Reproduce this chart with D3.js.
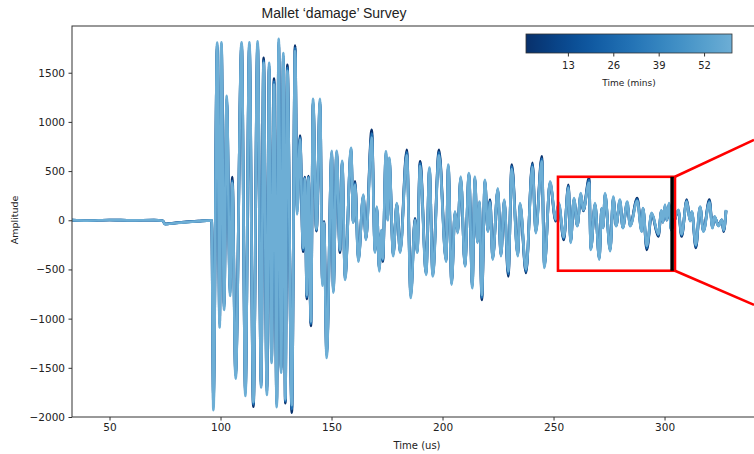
<!DOCTYPE html>
<html>
<head>
<meta charset="utf-8">
<script src="https://cdn.jsdelivr.net/npm/d3@7"></script>
<style>
  body { margin: 0; background: #fff; }
  svg { display: block; }
  text { font-family: "DejaVu Sans", sans-serif; fill: #222; }
</style>
</head>
<body>
<svg id="chart" width="754" height="454"></svg>
<script>
// Sample times (us) shared by every trace
const timeUs = [
  33.1, 40, 50, 60, 70, 74, 75, 76, 80, 85, 90, 96,
  96.8, 98.5, 99.6, 100.4, 101.6, 102.8, 104.3, 105.3, 106.8, 109.5, 111.2, 113.0,
  114.8, 116.7, 118.3, 119.4, 120.9, 121.9, 123.0, 124.1, 125.3, 126.2, 127.3, 128.3,
  129.2, 130.1, 132.1, 133.6, 134.5, 135.8, 137.2, 138.0, 138.9, 139.6, 140.7, 141.7,
  143.2, 144.8, 145.9, 146.6, 147.8, 150.1, 150.8, 152.3, 153.8, 154.8, 156.1, 158.8,
  159.8, 160.6, 162.1, 164.3, 165.5, 168.1, 169.6, 170.4, 171.5, 172.4, 173.1, 174.5,
  175.3, 176.0, 177.8, 179.4, 180.9, 183.9, 185.7, 187.6, 188.6, 189.9, 192.6, 194.1,
  195.6, 198.4, 201.6, 202.6, 204.1, 205.6, 206.8, 208.2, 210.1, 211.9, 213.4, 214.6,
  215.7, 216.6, 217.7, 219.1, 220.4, 221.4, 222.6, 224.9, 226.3, 227.8, 229.6, 231.2,
  233.9, 234.9, 237.6, 240.5, 242.0, 244.7, 245.9, 248.4, 251.0, 252.3, 254.6, 256.7,
  257.7, 259.2, 260.7, 262.3, 263.4, 266.0, 266.8, 268.7, 270.6, 271.7, 272.3, 273.2,
  275.5, 276.9, 278.2, 279.9, 281.2, 283.2, 284.5, 287.7, 289.7, 290.3, 292.0, 294.2,
  297.2, 298.6, 299.3, 300.2, 301.0, 302.0, 303.0, 306.2, 307.7, 310.0, 311.5, 312.3,
  314.1, 316.0, 317.5, 320.2, 321.6, 322.5, 324.3, 325.8, 326.6, 327.7
];

// Amplitude of the survey taken at 1 min
const ampEarly = [
  2, -3, 3, -2, 2, -5, -38, -36, -27, -17, -9, -1,
  -1800, 1750, -1000, 1760, -850, 1200, -700, 440, -1550, 1760, -1720, 1750,
  -1895, 1760, -1650, 1650, -1700, 1540, -1400, 1440, -1840, 1780, -1500, 1640,
  -1860, 1580, -1955, 1775, 120, 860, -320, 440, -800, 450, -1075, 1180,
  -110, 1190, -620, -10, -1340, 670, -700, 670, -330, 575, -570, 700,
  -15, 395, -390, 240, -180, 920, -310, 120, -490, -120, -420, 660,
  20, 600, -340, 160, -310, 715, -750, 20, -310, 600, -525, 505,
  -540, 715, -400, 535, -620, 70, -110, 420, -450, 460, -650, 420,
  -210, 170, -810, 390, -100, 210, -380, 305, -345, 190, -570, 565,
  -345, 155, -535, 585, -110, 650, -455, 375, -10, 160, -200, 360,
  -210, 205, -50, 255, 95, 430, -280, 155, -380, 115, -70, 255,
  -295, 220, -50, 190, -70, 170, -50, 225, -100, 115, -300, 65,
  -165, 90, -20, 140, 0, 155, -90, 95, -165, 210, 0, 80,
  -280, 130, -105, 210, -70, 30, -50, 5, -115, 95
];

// Amplitude of the survey taken at 30 mins
const ampMid = [
  2, -3, 3, -2, 2, -5, -39, -37, -27, -17, -9, -2,
  -1850, 1780, -1050, 1790, -880, 1230, -740, 400, -1580, 1790, -1750, 1780,
  -1870, 1790, -1680, 1620, -1740, 1570, -1420, 1410, -1870, 1810, -1520, 1670,
  -1840, 1550, -1920, 1750, 80, 840, -300, 430, -780, 440, -1050, 1200,
  -100, 1210, -640, -20, -1370, 690, -720, 690, -310, 590, -590, 720,
  -20, 375, -410, 250, -190, 880, -320, 130, -500, -110, -405, 680,
  10, 620, -350, 165, -320, 690, -770, 10, -320, 575, -540, 520,
  -555, 690, -410, 550, -640, 80, -120, 430, -460, 470, -670, 430,
  -220, 180, -785, 400, -110, 195, -390, 315, -355, 200, -545, 545,
  -355, 165, -520, 565, -120, 625, -470, 385, 0, 170, -185, 345,
  -220, 215, -55, 265, 100, 405, -290, 165, -390, 120, -75, 265,
  -305, 230, -55, 200, -75, 180, -55, 210, -110, 120, -280, 70,
  -150, 95, -20, 150, 0, 165, -95, 100, -150, 200, -5, 85,
  -265, 135, -110, 195, -75, 35, -55, 5, -105, 100
];

// Amplitude of the survey taken at 60 mins
const ampLate = [
  2, -3, 3, -2, 2, -5, -40, -38, -28, -18, -10, -2,
  -1930, 1805, -1090, 1810, -910, 1265, -770, 380, -1610, 1810, -1785, 1810,
  -1850, 1820, -1700, 1600, -1775, 1600, -1450, 1380, -1900, 1845, -1550, 1700,
  -1820, 1520, -1880, 1720, 60, 820, -280, 420, -760, 430, -1030, 1235,
  -90, 1235, -665, -25, -1400, 705, -735, 705, -300, 605, -605, 735,
  -25, 360, -420, 260, -200, 840, -330, 140, -520, -100, -390, 700,
  0, 635, -365, 175, -330, 660, -790, 0, -330, 550, -555, 535,
  -570, 660, -420, 565, -655, 90, -130, 445, -470, 480, -690, 445,
  -230, 190, -760, 410, -115, 180, -400, 325, -365, 210, -520, 520,
  -365, 175, -500, 540, -130, 600, -485, 395, 10, 180, -170, 330,
  -230, 225, -60, 275, 105, 380, -300, 175, -400, 125, -80, 275,
  -315, 240, -60, 210, -80, 190, -60, 195, -115, 125, -260, 75,
  -140, 100, -20, 160, 0, 175, -100, 105, -140, 190, -10, 90,
  -250, 140, -115, 180, -80, 40, -60, 5, -100, 105
];

const traceMins = [1, 30, 60];
const traces = [ampEarly, ampMid, ampLate];

const xTicks = [50, 100, 150, 200, 250, 300];
const yTicks = [-2000, -1500, -1000, -500, 0, 500, 1000, 1500];
const cbTicks = [13, 26, 39, 52];

// highlighted window (us / amplitude)
const boxUs = [252.0, 304.7];
const boxAmp = [-513, 442];
const markerUs = 303.4;
const connectorEnd = [[340.3, 818], [340.3, -860]];

const margin = { top: 26, left: 72 },
      width = 690,
      height = 391;

const svg = d3.select("#chart");

const x = d3.scaleLinear().domain([33.1, 343.9]).range([margin.left, margin.left + width]);
const y = d3.scaleLinear().domain([-2000, 1975]).range([margin.top + height, margin.top]);

// Blues colormap, dark end at 1 min, light end at 60 mins
const color = d3.scaleSequential(t => d3.interpolateBlues(1 - 0.5 * t)).domain([1, 60]);

// clip to axes
svg.append("defs").append("clipPath").attr("id", "plotclip")
  .append("rect")
  .attr("x", margin.left).attr("y", margin.top)
  .attr("width", width).attr("height", height);

const line = d3.line()
  .x((d, i) => x(timeUs[i]))
  .y(d => y(d))
  .curve(d3.curveMonotoneX);

const plot = svg.append("g").attr("clip-path", "url(#plotclip)");
traces.forEach((amp, k) => {
  plot.append("path")
    .datum(amp)
    .attr("fill", "none")
    .attr("stroke", color(traceMins[k]))
    .attr("stroke-width", 2.7)
    .attr("stroke-linejoin", "round")
    .attr("d", line);
});

// axes
const xAxis = svg.append("g")
  .attr("transform", `translate(0,${margin.top + height})`)
  .call(d3.axisBottom(x).tickValues(xTicks).tickSize(3.5).tickPadding(3.5));
const yAxis = svg.append("g")
  .attr("transform", `translate(${margin.left},0)`)
  .call(d3.axisLeft(y).tickValues(yTicks).tickFormat(d3.format("d")).tickSize(3.5).tickPadding(3.5));
[xAxis, yAxis].forEach(a => {
  a.select(".domain").remove();
  a.selectAll(".tick line").attr("stroke", "#333");
  a.selectAll(".tick text").style("font-size", "10.5px").attr("fill", "#222");
});

// spines
svg.append("rect")
  .attr("x", margin.left).attr("y", margin.top)
  .attr("width", width).attr("height", height)
  .attr("fill", "none").attr("stroke", "#333").attr("stroke-width", 1);

// zoom window annotation
svg.append("rect")
  .attr("x", x(boxUs[0])).attr("y", y(boxAmp[1]))
  .attr("width", x(boxUs[1]) - x(boxUs[0]))
  .attr("height", y(boxAmp[0]) - y(boxAmp[1]))
  .attr("fill", "none").attr("stroke", "#f00").attr("stroke-width", 2.6);

svg.append("line")
  .attr("x1", x(markerUs)).attr("x2", x(markerUs))
  .attr("y1", y(boxAmp[1])).attr("y2", y(boxAmp[0]))
  .attr("stroke", "#000").attr("stroke-width", 3.5);

svg.append("line")
  .attr("x1", x(boxUs[1])).attr("y1", y(boxAmp[1]))
  .attr("x2", x(connectorEnd[0][0])).attr("y2", y(connectorEnd[0][1]))
  .attr("stroke", "#f00").attr("stroke-width", 2.6);
svg.append("line")
  .attr("x1", x(boxUs[1])).attr("y1", y(boxAmp[0]))
  .attr("x2", x(connectorEnd[1][0])).attr("y2", y(connectorEnd[1][1]))
  .attr("stroke", "#f00").attr("stroke-width", 2.6);

// colorbar
const cbX = d3.scaleLinear().domain([1, 60]).range([526, 732]);
const cbTop = 34, cbH = 19;
const grad = svg.select("defs").append("linearGradient")
  .attr("id", "cbgrad").attr("x1", "0%").attr("x2", "100%");
d3.range(0, 1.0001, 0.05).forEach(t => {
  grad.append("stop")
    .attr("offset", `${t * 100}%`)
    .attr("stop-color", color(1 + t * 59));
});
svg.append("rect")
  .attr("x", cbX(1)).attr("y", cbTop)
  .attr("width", cbX(60) - cbX(1)).attr("height", cbH)
  .attr("fill", "url(#cbgrad)")
  .attr("stroke", "#333").attr("stroke-width", 0.8);
const cbAxis = svg.append("g")
  .attr("transform", `translate(0,${cbTop + cbH})`)
  .call(d3.axisBottom(cbX).tickValues(cbTicks).tickSize(3.5).tickPadding(5));
cbAxis.select(".domain").remove();
cbAxis.selectAll(".tick line").attr("stroke", "#333");
cbAxis.selectAll(".tick text").style("font-size", "10px").attr("fill", "#222");
svg.append("text")
  .attr("x", 629).attr("y", 86)
  .attr("text-anchor", "middle")
  .style("font-size", "9px")
  .text("Time (mins)");

// labels
svg.append("text")
  .attr("x", 334).attr("y", 18)
  .attr("text-anchor", "middle")
  .style("font-family", "'Liberation Sans', Arial, sans-serif")
  .style("font-size", "14px")
  .attr("fill", "#000")
  .text("Mallet ‘damage’ Survey");

svg.append("text")
  .attr("x", 417).attr("y", 449)
  .attr("text-anchor", "middle")
  .style("font-size", "10px")
  .text("Time (us)");

svg.append("text")
  .attr("transform", "translate(18,220) rotate(-90)")
  .attr("text-anchor", "middle")
  .style("font-size", "9.5px")
  .text("Amplitude");
</script>
</body>
</html>
